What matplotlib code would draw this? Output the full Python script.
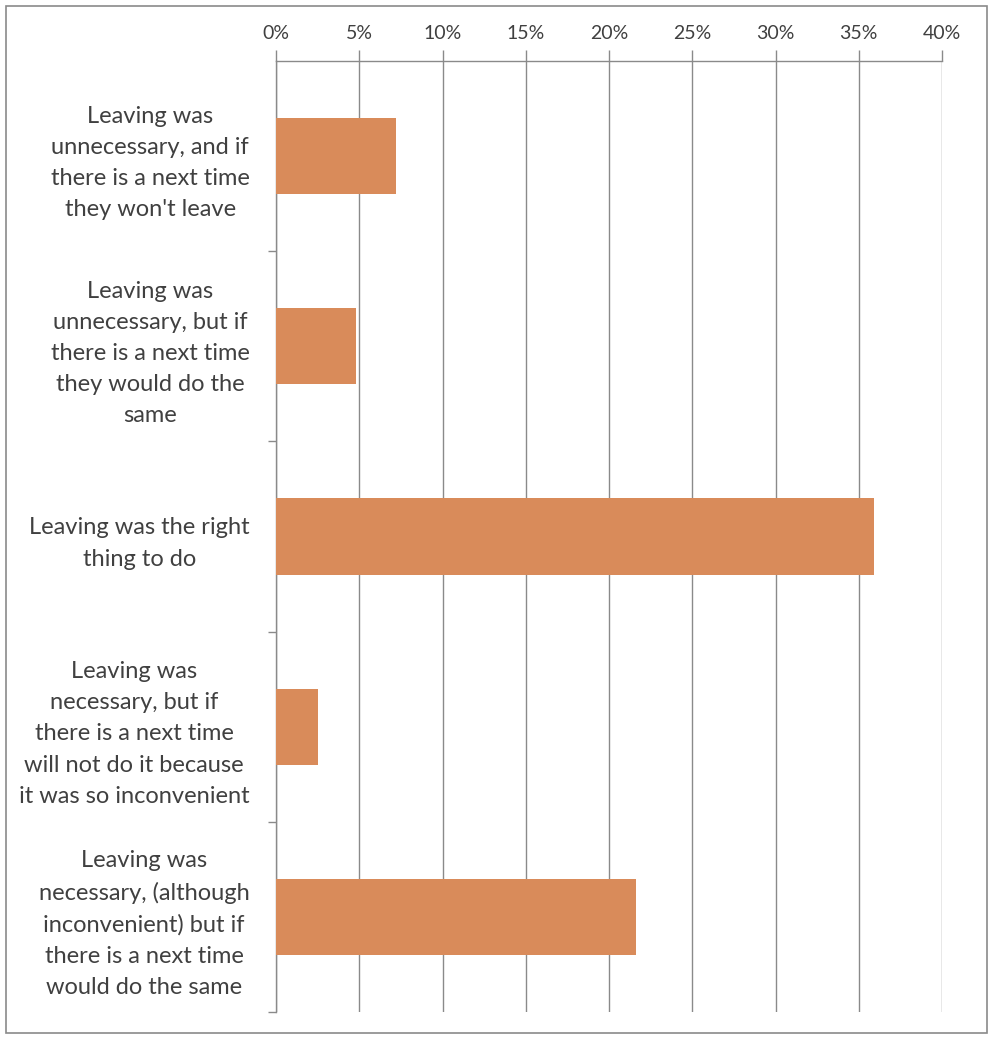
import matplotlib
matplotlib.use("Agg")
import matplotlib.pyplot as plt
from matplotlib.patches import Rectangle
from matplotlib.ticker import FuncFormatter

# 資料
categories = [
    "Leaving was\nunnecessary, and if\nthere is a next time\nthey won't leave",
    "Leaving was\nunnecessary, but if\nthere is a next time\nthey would do the\nsame",
    "Leaving was the right\nthing to do",
    "Leaving was\nnecessary, but if\nthere is a next time\nwill not do it because\nit was so inconvenient",
    "Leaving was\nnecessary, (although\ninconvenient) but if\nthere is a next time\nwould do the same",
]
shares = [0.072, 0.048, 0.359, 0.025, 0.216]
x_ticks = [0, 0.05, 0.10, 0.15, 0.20, 0.25, 0.30, 0.35, 0.40]

W, H = 989, 1044
plt.rcParams["font.family"] = ["Lato", "DejaVu Sans"]

fig = plt.figure(figsize=(W / 100, H / 100), dpi=100)
fig.patch.set_facecolor("white")

# 外框
fig.patches.append(Rectangle((6 / W, 1 - 1033 / H), 981 / W, 1027 / H,
                             transform=fig.transFigure, fill=False,
                             edgecolor="#8a8a8a", linewidth=1.2))

ax = fig.add_axes([276 / W, 1 - 1012 / H, 666 / W, 951 / H])

pos = list(range(len(categories)))
ax.barh(pos, shares, height=0.4, color="#D98B5A", zorder=3)

ax.set_xlim(0, 0.40)
ax.set_ylim(len(categories) - 0.5, -0.5)

# x軸在上方
ax.xaxis.tick_top()
ax.set_xticks(x_ticks)
ax.xaxis.set_major_formatter(FuncFormatter(lambda v, p: f"{round(v * 100)}%"))
ax.tick_params(axis="x", which="major", length=8, width=1, color="#8a8a8a",
               labelsize=14, labelcolor="#404040", pad=6)

# y軸標籤
ax.set_yticks(pos)
ax.set_yticklabels(categories, fontsize=17, color="#404040",
                   multialignment="center", linespacing=1.6)
ax.tick_params(axis="y", which="major", length=0, pad=19)
ax.set_yticks([p + 0.5 for p in pos], minor=True)
ax.tick_params(axis="y", which="minor", length=6, width=1, color="#8a8a8a")

# 網格與邊框
ax.grid(axis="x", color="#8a8a8a", linewidth=1, zorder=0)
ax.set_axisbelow(True)
for s in ["right", "bottom"]:
    ax.spines[s].set_visible(False)
for s in ["left", "top"]:
    ax.spines[s].set_color("#8a8a8a")
    ax.spines[s].set_linewidth(1)

fig.savefig("out.png", dpi=100)
